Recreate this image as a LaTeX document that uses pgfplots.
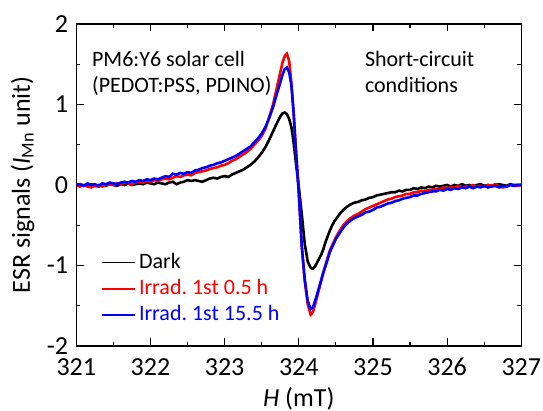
\documentclass[border=0pt]{standalone}
\usepackage{fontspec}
\setmainfont{Carlito}
\usepackage{pgfplots}
\usepackage{pgfplotstable}
\pgfplotsset{compat=1.18}
\frenchspacing

\pgfplotstableread{
x y
321.00 0.00
321.05 0.01
321.10 -0.01
321.15 0.00
321.20 0.01
321.25 -0.01
321.30 -0.02
321.35 0.00
321.40 -0.01
321.45 0.01
321.50 0.00
321.55 -0.01
321.60 0.01
321.65 0.00
321.70 0.02
321.75 0.00
321.80 0.01
321.85 0.02
321.90 0.01
321.95 0.03
322.00 0.02
322.05 0.01
322.10 0.03
322.15 0.02
322.20 0.01
322.25 0.03
322.30 0.04
322.35 0.01
322.40 0.03
322.45 0.04
322.50 0.06
322.55 0.05
322.60 0.06
322.65 0.05
322.70 0.04
322.75 0.06
322.80 0.08
322.85 0.09
322.90 0.08
322.95 0.10
323.00 0.11
323.05 0.10
323.10 0.13
323.15 0.15
323.20 0.17
323.25 0.19
323.30 0.22
323.35 0.25
323.40 0.29
323.45 0.34
323.50 0.40
323.55 0.47
323.60 0.56
323.65 0.66
323.70 0.76
323.75 0.85
323.78 0.89
323.81 0.90
323.84 0.88
323.87 0.82
323.90 0.72
323.93 0.53
323.96 0.28
324.00 -0.02
324.04 -0.36
324.08 -0.73
324.12 -0.95
324.16 -1.03
324.19 -1.04
324.22 -1.01
324.26 -0.94
324.30 -0.87
324.33 -0.80
324.36 -0.71
324.40 -0.61
324.44 -0.52
324.48 -0.45
324.52 -0.40
324.56 -0.35
324.60 -0.31
324.65 -0.27
324.70 -0.24
324.75 -0.22
324.80 -0.21
324.85 -0.19
324.90 -0.18
324.95 -0.16
325.00 -0.15
325.05 -0.13
325.10 -0.12
325.15 -0.11
325.20 -0.10
325.25 -0.09
325.30 -0.09
325.35 -0.07
325.40 -0.08
325.45 -0.06
325.50 -0.06
325.55 -0.04
325.60 -0.05
325.65 -0.03
325.70 -0.04
325.75 -0.02
325.80 -0.03
325.85 -0.01
325.90 -0.02
325.95 -0.01
326.00 0.00
326.05 -0.02
326.10 0.00
326.15 -0.01
326.20 0.01
326.25 -0.01
326.30 0.00
326.35 -0.02
326.40 0.00
326.45 0.01
326.50 -0.01
326.55 0.00
326.60 -0.01
326.65 0.00
326.70 0.01
326.75 0.00
326.80 -0.01
326.85 0.01
326.90 0.00
326.95 0.00
327.00 0.00
}\darkdata

\pgfplotstableread{
x y
321.00 0.00
321.05 -0.02
321.10 0.00
321.15 -0.02
321.20 -0.03
321.25 -0.01
321.30 0.00
321.35 -0.02
321.40 0.00
321.45 0.01
321.50 0.00
321.55 0.02
321.60 0.01
321.65 0.03
321.70 0.02
321.75 0.01
321.80 0.03
321.85 0.04
321.90 0.03
321.95 0.05
322.00 0.04
322.05 0.06
322.10 0.05
322.15 0.07
322.20 0.08
322.25 0.07
322.30 0.09
322.35 0.11
322.40 0.10
322.45 0.12
322.50 0.13
322.55 0.12
322.60 0.15
322.65 0.16
322.70 0.17
322.75 0.18
322.80 0.20
322.85 0.21
322.90 0.22
322.95 0.24
323.00 0.25
323.05 0.27
323.10 0.30
323.15 0.32
323.20 0.35
323.25 0.38
323.30 0.41
323.35 0.45
323.40 0.50
323.45 0.55
323.50 0.61
323.55 0.70
323.60 0.84
323.65 0.99
323.70 1.19
323.75 1.40
323.78 1.52
323.81 1.60
323.84 1.63
323.87 1.54
323.90 1.27
323.93 0.90
323.96 0.45
324.00 -0.10
324.04 -0.76
324.08 -1.19
324.12 -1.48
324.16 -1.61
324.19 -1.58
324.23 -1.45
324.28 -1.27
324.33 -1.09
324.38 -0.93
324.42 -0.81
324.46 -0.73
324.50 -0.65
324.55 -0.57
324.60 -0.50
324.65 -0.45
324.70 -0.41
324.75 -0.38
324.80 -0.36
324.85 -0.33
324.90 -0.30
324.95 -0.28
325.00 -0.26
325.05 -0.24
325.10 -0.22
325.15 -0.20
325.20 -0.18
325.25 -0.17
325.30 -0.15
325.35 -0.14
325.40 -0.13
325.45 -0.11
325.50 -0.11
325.55 -0.09
325.60 -0.09
325.65 -0.07
325.70 -0.08
325.75 -0.06
325.80 -0.06
325.85 -0.05
325.90 -0.05
325.95 -0.03
326.00 -0.04
326.05 -0.03
326.10 -0.03
326.15 -0.01
326.20 -0.03
326.25 -0.02
326.30 -0.02
326.35 0.00
326.40 -0.02
326.45 -0.01
326.50 -0.02
326.55 0.00
326.60 -0.01
326.65 0.01
326.70 -0.02
326.75 -0.03
326.80 -0.02
326.85 0.00
326.90 -0.01
326.95 -0.01
327.00 0.00
}\reddata

\pgfplotstableread{
x y
321.00 0.00
321.05 0.01
321.10 -0.01
321.15 0.02
321.20 0.00
321.25 0.01
321.30 -0.01
321.35 0.02
321.40 0.01
321.45 0.03
321.50 0.02
321.55 0.01
321.60 0.03
321.65 0.04
321.70 0.03
321.75 0.05
321.80 0.04
321.85 0.06
321.90 0.05
321.95 0.07
322.00 0.06
322.05 0.08
322.10 0.07
322.15 0.09
322.20 0.11
322.25 0.10
322.30 0.14
322.35 0.13
322.40 0.15
322.45 0.14
322.50 0.16
322.55 0.15
322.60 0.18
322.65 0.19
322.70 0.21
322.75 0.22
322.80 0.24
322.85 0.25
322.90 0.27
322.95 0.28
323.00 0.30
323.05 0.32
323.10 0.34
323.15 0.36
323.20 0.39
323.25 0.42
323.30 0.45
323.35 0.48
323.40 0.53
323.45 0.58
323.50 0.64
323.55 0.72
323.60 0.83
323.65 0.96
323.70 1.12
323.75 1.27
323.78 1.37
323.81 1.44
323.84 1.46
323.87 1.40
323.90 1.24
323.93 0.90
323.96 0.45
324.00 -0.10
324.04 -0.76
324.08 -1.17
324.12 -1.44
324.16 -1.54
324.19 -1.52
324.23 -1.41
324.28 -1.25
324.33 -1.09
324.38 -0.95
324.42 -0.83
324.46 -0.75
324.50 -0.67
324.55 -0.60
324.60 -0.53
324.65 -0.48
324.70 -0.44
324.75 -0.41
324.80 -0.39
324.85 -0.37
324.90 -0.34
324.95 -0.33
325.00 -0.31
325.05 -0.28
325.10 -0.27
325.15 -0.25
325.20 -0.23
325.25 -0.22
325.30 -0.20
325.35 -0.19
325.40 -0.17
325.45 -0.16
325.50 -0.15
325.55 -0.13
325.60 -0.13
325.65 -0.11
325.70 -0.10
325.75 -0.09
325.80 -0.08
325.85 -0.08
325.90 -0.06
325.95 -0.07
326.00 -0.05
326.05 -0.06
326.10 -0.04
326.15 -0.05
326.20 -0.03
326.25 -0.04
326.30 -0.02
326.35 -0.04
326.40 -0.02
326.45 -0.03
326.50 -0.01
326.55 -0.03
326.60 -0.02
326.65 -0.01
326.70 -0.03
326.75 -0.01
326.80 -0.02
326.85 0.00
326.90 -0.01
326.95 0.00
327.00 0.00
}\bluedata

\begin{document}
\begin{tikzpicture}
\begin{axis}[
  at={(0,0)}, anchor=south west,
  scale only axis, width=445pt, height=322pt,
  xmin=321, xmax=327, ymin=-2, ymax=2,
  xtick={321,322,323,324,325,326,327},
  xticklabels={321,322,323,324,325,326,327},
  ytick={-2,-1,0,1,2},
  yticklabels={-2,-1,0,1,2},
  minor x tick num=1, minor y tick num=1,
  tick align=inside,
  major tick length=7.5pt, minor tick length=4pt,
  axis line style={line width=1.1pt, black},
  tick style={line width=1.1pt, black},
  ticklabel style={font=\fontsize{26}{30}\selectfont, inner sep=0pt},
  xticklabel style={anchor=north, yshift=-12pt},
  yticklabel style={anchor=east, xshift=-8pt},
  xlabel={\textit{H} (mT)},
  ylabel={ESR signals (\textit{I}\textsubscript{Mn} unit)},
  label style={font=\fontsize{26}{30}\selectfont, inner sep=0pt},
  xlabel style={at={(axis description cs:0.5,-0.1646)}, anchor=center},
  ylabel style={at={(axis description cs:-0.1209,0.5)}, anchor=center},
  legend style={at={(axis description cs:0.0544,0.2894)}, anchor=north west,
    draw=none, fill=none, inner sep=0pt, row sep=7.3pt, column sep=3.5pt,
    font=\fontsize{22}{26}\selectfont,
    nodes={inner sep=0pt, text height=15pt, text depth=4pt}},
  legend cell align=left,
  legend image code/.code={\draw[#1, line width=1.8pt] (0pt,0pt) -- (33pt,0pt);},
]
\addplot[black, line width=2.6pt] table {\darkdata};
\addlegendentry{\textcolor{black}{Dark}}
\addplot[red, line width=2.6pt] table {\reddata};
\addlegendentry{\textcolor{red}{Irrad. 1st 0.5 h}}
\addplot[blue, line width=2.6pt] table {\bluedata};
\addlegendentry{\textcolor{blue}{Irrad. 1st 15.5 h}}
\end{axis}
\begin{scope}[every node/.style={anchor=base west, inner sep=0pt, font=\fontsize{22}{26}\selectfont}]
\node at (15.6pt,279.3pt) {PM6:Y6 solar cell};
\node at (15.6pt,253.3pt) {(PEDOT:PSS, PDINO)};
\node at (288.5pt,279.3pt) {Short-circuit};
\node at (288.5pt,253.3pt) {conditions};
\end{scope}
\pgfresetboundingbox
\path[use as bounding box] (-76.3pt,-65pt) rectangle (466.7pt,346pt);
\end{tikzpicture}
\end{document}
